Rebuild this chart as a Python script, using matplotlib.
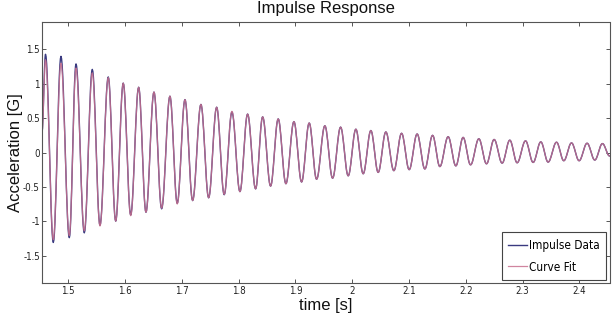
import numpy as np
import matplotlib
matplotlib.use("Agg")
import matplotlib.pyplot as plt
from matplotlib import font_manager as fm

# ---------------- data ----------------
peak_times = [1.4599, 1.4871, 1.5136, 1.5423, 1.5704, 1.5968, 1.6239, 1.6509, 1.6790,
              1.7055, 1.7336, 1.7613, 1.7882, 1.8158, 1.8423, 1.8697, 1.8974, 1.9243,
              1.9519, 1.9796, 2.0065, 2.0329, 2.0593, 2.0870, 2.1144, 2.1416, 2.1690,
              2.1954, 2.2231, 2.2500, 2.2776, 2.3053, 2.3322, 2.3599, 2.3863, 2.4137, 2.4408]
peak_values = [1.43, 1.40, 1.29, 1.21, 1.10, 1.01, 0.95, 0.88, 0.82, 0.77, 0.70, 0.66,
               0.59, 0.56, 0.52, 0.49, 0.45, 0.43, 0.39, 0.37, 0.34, 0.32, 0.30, 0.28,
               0.27, 0.25, 0.23, 0.22, 0.20, 0.19, 0.18, 0.17, 0.155, 0.15, 0.14, 0.135, 0.13]
trough_times = [1.4736, 1.5018, 1.5282, 1.5558, 1.5835, 1.6099, 1.6368, 1.6644, 1.6919,
                1.7190, 1.7472, 1.7746, 1.8023, 1.8299, 1.8563, 1.8833, 1.9109, 1.9373,
                1.9655, 1.9930, 2.0194, 2.0458, 2.0734, 2.1004, 2.1280, 2.1544, 2.1826,
                2.2085, 2.2366, 2.2641, 2.2905, 2.3187, 2.3451, 2.3727, 2.3997, 2.4273]
trough_values = [-1.31, -1.24, -1.17, -1.06, -1.00, -0.91, -0.87, -0.82, -0.74, -0.70,
                 -0.66, -0.615, -0.57, -0.53, -0.49, -0.455, -0.43, -0.39, -0.375, -0.34,
                 -0.31, -0.29, -0.265, -0.25, -0.24, -0.205, -0.195, -0.18, -0.165, -0.155,
                 -0.15, -0.145, -0.14, -0.12, -0.12, -0.11]
fit_peak_values = [1.35, 1.30, 1.23, 1.16, 1.09, 1.01, 0.95, 0.88, 0.82, 0.77, 0.70, 0.66,
                   0.60, 0.56, 0.52, 0.49, 0.45, 0.43, 0.39, 0.37, 0.34, 0.32, 0.30, 0.28,
                   0.27, 0.25, 0.23, 0.22, 0.20, 0.19, 0.18, 0.17, 0.155, 0.15, 0.14, 0.135, 0.13]
fit_trough_values = [-1.27, -1.21, -1.14, -1.07, -1.00, -0.92, -0.87, -0.81, -0.75, -0.70,
                     -0.66, -0.61, -0.57, -0.53, -0.49, -0.455, -0.43, -0.39, -0.375, -0.34,
                     -0.31, -0.29, -0.265, -0.25, -0.24, -0.205, -0.195, -0.18, -0.165, -0.155,
                     -0.15, -0.145, -0.14, -0.12, -0.12, -0.11]
start_time, start_value = 1.4537, 0.30
end_time, end_value = 2.4532, -0.05

xticks = [1.5, 1.6, 1.7, 1.8, 1.9, 2.0, 2.1, 2.2, 2.3, 2.4]
xtick_labels = ["1.5", "1.6", "1.7", "1.8", "1.9", "2", "2.1", "2.2", "2.3", "2.4"]
yticks = [-1.5, -1.0, -0.5, 0.0, 0.5, 1.0, 1.5]
ytick_labels = ["-1.5", "-1", "-0.5", "0", "0.5", "1", "1.5"]
series_names = ["Impulse Data", "Curve Fit"]


def knots(pv, tv):
    t = [start_time]
    v = [start_value]
    for i in range(len(peak_times)):
        t.append(peak_times[i]); v.append(pv[i])
        if i < len(trough_times):
            t.append(trough_times[i]); v.append(tv[i])
    t.append(end_time); v.append(end_value)
    return t, v


def trace(kt, kv, n=14):
    xs, ys = [], []
    for i in range(len(kt) - 1):
        s = np.linspace(0, 1, n, endpoint=False)
        w = (1 - np.cos(np.pi * s)) / 2
        xs.append(kt[i] + (kt[i + 1] - kt[i]) * s)
        ys.append(kv[i] + (kv[i + 1] - kv[i]) * w)
    xs.append([kt[-1]]); ys.append([kv[-1]])
    return np.concatenate(xs), np.concatenate(ys)


# ---------------- fonts ----------------
names = {f.name for f in fm.fontManager.ttflist}
if "Liberation Sans Narrow" in names:
    narrow = dict(family="Liberation Sans Narrow")
    tick_fs, leg_fs = 8, 10
elif any(f.name == "DejaVu Sans" and "ondensed" in f.fname for f in fm.fontManager.ttflist):
    narrow = dict(family="DejaVu Sans", stretch="condensed")
    tick_fs, leg_fs = 7, 8.5
else:
    narrow = dict(family="DejaVu Sans")
    tick_fs, leg_fs = 6.5, 8
main_font = "Liberation Sans" if "Liberation Sans" in names else "DejaVu Sans"

# ---------------- figure ----------------
fig = plt.figure(figsize=(6.15, 3.17), dpi=100)
ax = fig.add_axes([42 / 615, 1 - 283 / 317, 567.5 / 615, 261 / 317])

dt, dv = trace(*knots(peak_values, trough_values))
ft, fv = trace(*knots(fit_peak_values, fit_trough_values))
ax.plot(dt, dv, color="#3a3a80", lw=1.0, label=series_names[0])
ax.plot(ft, fv, color="#c8708e", lw=0.9, alpha=0.85, label=series_names[1])

ax.set_xlim(1.4537, 2.4532)
ax.set_ylim(-1.9, 1.9)
ax.set_xticks(xticks)
ax.set_xticklabels(xtick_labels, fontsize=tick_fs, **narrow)
ax.set_yticks(yticks)
ax.set_yticklabels(ytick_labels, fontsize=tick_fs, **narrow)
ax.tick_params(direction="in", top=True, right=True, length=3, width=0.7,
               colors="#555555", labelcolor="#222222")
ax.tick_params(axis="x", pad=2.5)
ax.tick_params(axis="y", pad=1.5)
for sp in ax.spines.values():
    sp.set_color("#555555")
    sp.set_linewidth(0.8)

ax.set_title("Impulse Response", fontsize=12, family=main_font, pad=6.3, color="#111111")
ax.set_xlabel("time [s]", fontsize=12, family=main_font, color="#111111")
ax.set_ylabel("Acceleration [G]", fontsize=12, family=main_font, color="#111111")
ax.xaxis.set_label_coords(0.5, -0.058)
ax.yaxis.set_label_coords(-0.034, 0.5)

leg = ax.legend(loc="lower right", bbox_to_anchor=(0.9938, 0.0115), borderaxespad=0,
                fancybox=False, framealpha=1, edgecolor="#444444",
                prop=dict(size=leg_fs, **narrow), handlelength=1.6, handletextpad=0.15,
                labelspacing=0.75, borderpad=0.55)
leg.get_frame().set_linewidth(0.8)

fig.savefig("out.png", dpi=100)
